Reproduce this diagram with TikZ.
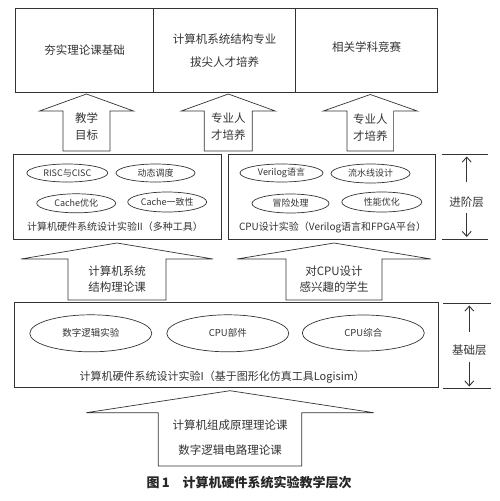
\documentclass[tikz,border=0pt]{standalone}
\usepackage{fontspec}
\setmainfont{Noto Sans CJK SC}
\usetikzlibrary{shapes.geometric,arrows.meta}

\begin{document}
\begin{tikzpicture}[
  x=1pt, y=-1pt,
  line width=0.7pt,
  box/.style={rectangle, draw=black!80, inner sep=0pt, text=black!80},
  ell/.style={ellipse, draw=black!80, inner sep=0pt, text=black!80, font=\fontsize{9}{10}\selectfont},
  lbl/.style={align=center, text=black!80, font=\fontsize{11.5}{17}\selectfont},
  captxt/.style={text=black!80, font=\fontsize{10}{12}\selectfont},
  blk/.style={draw=black!80, line join=miter},
  lvl/.style={-{Straight Barb[length=5pt,width=9pt]}, draw=black!80, line width=0.9pt}
]
\useasboundingbox (0,0) rectangle (500,501);

% #1 tip x, #2 tip y, #3 wing y, #4 base y, #5 head half width, #6 shaft half width
\newcommand{\blockarrow}[6]{%
  \draw[blk] (#1,#2) -- (#1+#5,#3) -- (#1+#6,#3) -- (#1+#6,#4)
    -- (#1-#6,#4) -- (#1-#6,#3) -- (#1-#5,#3) -- cycle;
}

%======================
% TOP: GOALS
%======================

\node[box, lbl, minimum width=138pt, minimum height=84.4pt] (goal1) at (84.7,50.5) {夯实理论课基础};
\node[box, lbl, font=\fontsize{11.5}{23}\selectfont, minimum width=142pt, minimum height=84.4pt] (goal2) at (224.7,50.5) {计算机系统结构专业\\拔尖人才培养};
\node[box, minimum width=142pt, minimum height=84.4pt] (goal3) at (366.7,50.5) {};
\node[lbl] (goal3txt) at (366.7,46.7) {相关学科竞赛};

% arrows into the goals
\blockarrow{86.5}{94}{111}{151}{47}{23.5}
\blockarrow{228.3}{94}{111}{151}{47}{24}
\blockarrow{370.3}{94.5}{111}{151}{47}{23.3}

\node[lbl] (aim1) at (86.5,126.5) {教学\\目标};
\node[lbl] (aim2) at (228.3,126.5) {专业人\\才培养};
\node[lbl] (aim3) at (370.3,127.5) {专业人\\才培养};

%======================
% MIDDLE: ADVANCED LAYER
%======================

\node[box, minimum width=207.7pt, minimum height=84.7pt] (hw2) at (117.2,196.7) {};
\node[box, minimum width=206.3pt, minimum height=84.7pt] (cpu) at (331.8,196.7) {};

% topics, left box
\node[ell, minimum width=81pt, minimum height=18pt] (risc) at (67.3,173) {RISC与CISC};
\node[ell, minimum width=79pt, minimum height=18pt] (sched) at (155.5,173) {动态调度};
\node[ell, minimum width=79pt, minimum height=19pt] (cache) at (76.2,203.3) {Cache优化};
\node[ell, minimum width=79pt, minimum height=20pt] (coher) at (167.2,202) {Cache一致性};
\node[captxt] (hw2cap) at (115,227) {计算机硬件系统设计实验II（多种工具）};

% topics, right box
\node[ell, minimum width=83pt, minimum height=18pt] (veri) at (281.5,173) {Verilog语言};
\node[ell, minimum width=79pt, minimum height=19pt] (pipe) at (370.5,173.5) {流水线设计};
\node[ell, minimum width=77pt, minimum height=19pt] (hazard) at (290.5,203.5) {冒险处理};
\node[ell, minimum width=80pt, minimum height=20pt] (perf) at (381.8,202) {性能优化};
\node[captxt] (cpucap) at (332.5,227) {CPU设计实验（Verilog语言和FPGA平台）};

% level mark
\draw[blk] (441.7,154.3) -- (488.3,154.3);
\draw[blk] (441.7,239) -- (488.3,239);
\node[lbl] (adv) at (466.7,201.7) {进阶层};
\draw[lvl] (466.7,182) -- (466.7,156.5);
\draw[lvl] (466.7,213) -- (466.7,237);

% arrows into the advanced layer
\blockarrow{117}{243}{259}{300}{96}{49}
\blockarrow{334}{243}{259}{300}{97}{48}

\node[lbl, font=\fontsize{11.5}{16}\selectfont] (arch) at (117,279) {计算机系统\\结构理论课};
\node[lbl, font=\fontsize{11.5}{16}\selectfont] (fans) at (334,278.7) {对CPU设计\\感兴趣的学生};

%======================
% BOTTOM: BASIC LAYER
%======================

\node[box, minimum width=424pt, minimum height=85.7pt] (hw1) at (226.3,344.8) {};

\node[ell, font=\fontsize{9.5}{11}\selectfont, minimum width=122pt, minimum height=37pt] (logic) at (90.8,333.3) {数字逻辑实验};
\node[ell, font=\fontsize{9.5}{11}\selectfont, minimum width=122pt, minimum height=37pt] (parts) at (227.8,333.3) {CPU部件};
\node[ell, font=\fontsize{9.5}{11}\selectfont, minimum width=122pt, minimum height=36pt] (whole) at (363.3,333) {CPU综合};
\node[captxt, font=\fontsize{11}{13}\selectfont] (hw1cap) at (222.3,376.7) {计算机硬件系统设计实验I（基于图形化仿真工具Logisim）};

% level mark
\draw[blk] (443.3,303.3) -- (490.7,303.3);
\draw[blk] (443.3,388.3) -- (490.7,388.3);
\node[lbl] (base) at (469.3,350) {基础层};
\draw[lvl] (469.3,332) -- (469.3,305.5);
\draw[lvl] (469.3,361.7) -- (469.3,386.5);

% arrow into the basic layer
\blockarrow{230}{390.7}{412.7}{466}{143.7}{71.7}

\node[lbl] (org) at (230,425) {计算机组成原理理论课};
\node[lbl] (dig) at (230,450) {数字逻辑电路理论课};

% caption
\node[text=black!85, font=\fontsize{13}{15}\selectfont\bfseries] (title) at (249.2,482.3) {图\,1\quad 计算机硬件系统实验教学层次};

\end{tikzpicture}
\end{document}
